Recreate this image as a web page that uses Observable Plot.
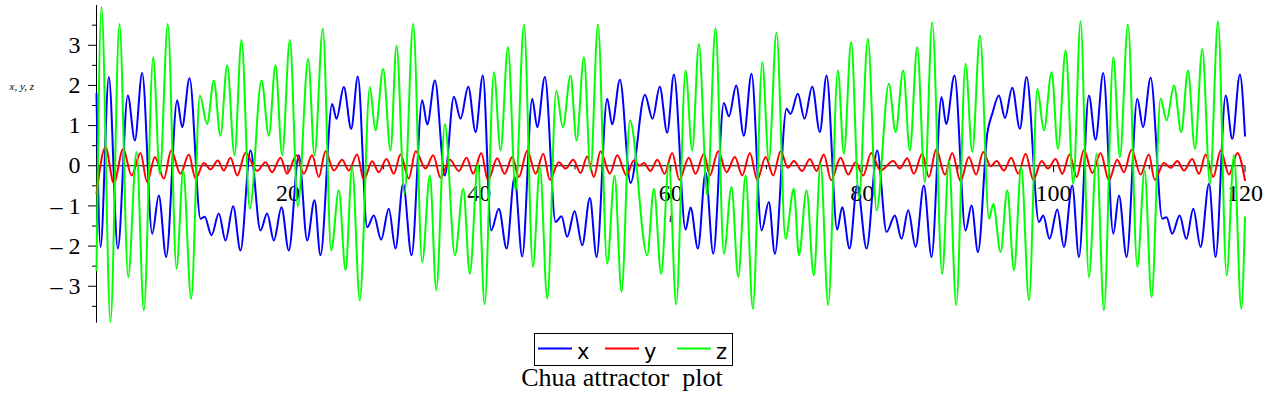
<!DOCTYPE html>
<html>
<head>
<meta charset="utf-8">
<script src="https://cdn.jsdelivr.net/npm/d3@7"></script>
<script src="https://cdn.jsdelivr.net/npm/@observablehq/plot@0.6"></script>
<style>
  html, body { margin: 0; padding: 0; background: #fff; }
  body { width: 1270px; height: 400px; position: relative; overflow: hidden; }
  #chart { position: absolute; left: 0; top: 0; }
  #legend { position: absolute; left: 533px; top: 332px; }
  #caption { position: absolute; left: 422px; width: 400px; top: 363px; text-align: center;
    font-family: "Liberation Serif", "Times New Roman", serif; font-size: 26px; white-space: pre; color: #000; }
</style>
</head>
<body>
<div id="chart"></div>
<svg id="legend" width="202" height="36" xmlns="http://www.w3.org/2000/svg"></svg>
<div id="caption">Chua attractor  plot</div>
<script>
// ---- data (local extrema of each series) ----
const xT = [0,0.42,1.29,2.23,3.27,4.01,4.77,5.82,6.51,7.28,
  8.43,8.95,9.72,10.87,11.3,12.02,12.78,13.48,14.28,15.04,
  16.09,17.13,17.83,18.53,19.33,20.09,21.14,22.01,22.78,23.40,
  24.62,25.08,25.84,26.61,27.31,28.28,28.98,29.74,30.54,31.24,
  32.04,32.92,34.03,34.56,35.36,36.40,37.34,38.04,38.84,39.61,
  40.37,41.24,42.04,42.85,43.68,44.48,45.53,46.05,46.85,47.97,
  48.59,49.18,49.95,50.75,51.55,52.25,53.36,53.88,54.69,55.80,
  57.30,58.10,58.85,59.63,60.33,61.55,62.07,62.84,63.64,64.44,
  65.55,66.08,66.84,67.64,68.44,69.49,70.25,70.88,72.10,72.51,
  73.28,73.98,74.78,75.58,76.28,77.39,77.91,78.68,79.48,80.46,
  81.57,82.55,83.42,84.11,84.81,85.58,86.45,87.25,88.29,88.78,
  89.65,90.80,91.43,92.10,93.07,93.60,94.29,94.92,95.68,96.48,
  97.18,98.47,98.92,99.58,100.39,101.08,101.95,102.65,103.69,104.39,
  105.19,106.24,106.83,107.63,108.75,109.34,110.14,111.36,111.8,112.40,
  113.17,113.87,114.60,115.36,116.24,116.93,117.98,118.67,119.47,120];
const xV = [1.8,-2.02,2.21,-2.06,1.75,0.63,2.31,-1.69,-0.74,-2.27,
  1.63,0.96,2.18,-1.32,-1.27,-1.73,-1.19,-1.86,-1.01,-2.11,
  0.38,-1.61,-1.19,-1.86,-1.03,-2.11,0.26,-1.86,-0.86,-2.23,
  1.54,1.17,1.96,0.92,2.22,-1.53,-1.24,-1.84,-1.07,-2.06,
  -0.45,-2.23,1.63,1.03,2.12,-0.24,1.72,1.17,1.97,0.84,
  2.25,-1.61,-1.07,-2.06,-0.28,-2.26,1.67,0.96,2.21,-1.40,
  -1.26,-1.77,-1.13,-1.98,-0.80,-2.27,1.67,1.03,2.14,-0.43,
  1.77,1.17,1.97,0.82,2.27,-1.59,-1.04,-2.06,-0.16,-2.19,
  1.56,1.23,2.00,0.75,2.29,-1.61,-0.90,-2.19,1.42,1.29,
  1.79,1.17,1.97,0.84,2.25,-1.59,-1.03,-2.06,-0.49,-2.06,
  0.38,-1.65,-1.24,-1.82,-1.11,-2.02,-0.49,-2.27,1.71,1.04,
  2.25,-1.61,-0.99,-2.15,0.80,1.30,1.75,1.19,1.94,0.92,
  2.21,-1.40,-1.24,-1.82,-1.09,-2.02,-0.49,-2.27,1.75,0.65,
  2.31,-1.69,-0.74,-2.27,1.67,0.96,2.19,-1.32,-1.28,-1.69,
  -1.24,-1.82,-1.07,-2.02,-0.45,-2.27,1.75,0.67,2.27,0.75];

const yT = [0,0.94,1.81,2.79,3.66,4.60,5.29,6.10,7.04,7.80,
  8.78,9.65,10.35,11.22,11.91,12.68,13.3,14.0,14.70,15.57,
  16.79,17.66,18.35,19.22,19.92,20.90,21.66,22.53,23.23,23.93,
  24.80,25.67,26.36,27.23,27.93,28.80,29.50,30.30,31.07,31.76,
  32.63,33.34,34.38,35.18,35.95,36.92,37.86,38.67,39.36,40.20,
  40.90,41.87,42.64,43.44,44.13,45.01,45.88,46.68,47.37,48.31,
  49.01,49.81,50.58,51.27,51.97,52.66,53.64,54.41,55.38,56.14,
  56.75,57.2,57.88,58.6,59.35,60.15,60.9,61.89,62.59,63.46,
  64.09,64.96,65.83,66.70,67.47,68.27,69.04,69.91,70.71,71.47,
  72.25,72.86,73.73,74.54,75.23,75.99,76.76,77.74,78.54,79.31,
  80.11,80.94,81.92,83.24,83.94,84.71,85.40,86.27,86.97,87.74,
  88.64,89.41,90.28,91.15,91.90,92.65,93.42,94.05,94.81,95.58,
  96.31,97.08,97.88,98.75,99.41,100.21,100.91,101.67,102.41,103.17,
  104.04,104.91,105.78,106.65,107.35,108.15,109.09,109.96,110.56,111.53,
  112.23,112.93,113.62,114.49,115.19,115.89,116.69,117.45,118.33,119.20,
  120];
const yV = [-0.70,0.46,-0.43,0.42,-0.24,0.32,-0.41,0.22,-0.32,0.38,
  -0.20,0.28,-0.32,0.07,-0.09,0.13,-0.12,0.20,-0.24,0.32,
  -0.13,0.09,-0.16,0.20,-0.20,0.26,-0.20,0.26,-0.28,0.36,
  -0.12,0.15,-0.12,0.28,-0.35,0.11,-0.16,0.17,-0.20,0.28,
  -0.32,0.36,-0.07,0.26,-0.30,0.15,-0.13,0.20,-0.20,0.32,
  -0.36,0.19,-0.20,0.22,-0.28,0.38,-0.20,0.30,-0.35,0.09,
  -0.07,0.15,-0.18,0.23,-0.28,0.36,-0.20,0.26,-0.24,0.13,
  0.0,0.07,-0.13,0.15,-0.20,0.32,-0.35,0.20,-0.20,0.30,
  -0.24,0.36,-0.16,0.22,-0.24,0.32,-0.35,0.22,-0.24,0.36,
  -0.05,0.12,-0.13,0.17,-0.13,0.28,-0.36,0.20,-0.22,0.09,
  -0.24,0.32,-0.12,0.12,-0.07,0.19,-0.20,0.30,-0.28,0.41,
  -0.22,0.32,-0.38,0.22,-0.22,0.34,-0.01,0.12,-0.12,0.20,
  -0.20,0.30,-0.35,0.12,-0.07,0.17,-0.20,0.28,-0.28,0.40,
  -0.18,0.32,-0.36,0.15,-0.16,0.40,-0.22,0.28,-0.35,0.07,
  -0.05,0.12,-0.12,0.17,-0.20,0.28,-0.28,0.38,-0.22,0.32,
  -0.36];

const zT = [0,0.52,1.46,2.40,3.31,4.18,4.95,5.92,6.62,7.45,
  8.36,9.06,9.89,10.80,11.56,12.26,12.95,13.65,14.42,15.15,
  16.02,17.24,18.01,18.70,19.40,20.20,21.04,22.12,22.78,23.65,
  24.52,25.32,26.02,26.71,27.51,28.56,29.15,29.95,30.72,31.35,
  32.18,33.09,34.03,34.83,35.50,36.40,37.45,38.32,39.01,39.85,
  40.55,41.52,42.22,42.99,43.79,44.66,45.60,46.33,47.10,48.04,
  48.73,49.53,50.16,50.93,51.62,52.39,53.36,54.13,54.86,55.73,
  57.54,58.24,59.00,59.80,60.57,61.55,62.24,62.94,63.81,64.68,
  65.55,66.35,67.05,67.82,68.58,69.56,70.25,71.05,71.99,72.86,
  73.39,74.19,74.95,75.65,76.45,77.46,78.09,78.85,79.66,80.60,
  81.50,82.79,83.49,84.29,84.98,85.75,86.55,87.32,88.36,89.06,
  89.83,90.80,91.50,92.31,93.25,93.70,94.46,95.16,95.86,96.62,
  97.43,98.30,98.99,99.79,100.46,101.26,102.06,102.82,103.69,104.50,
  105.26,106.24,106.93,107.77,108.75,109.51,110.24,111.18,111.81,112.58,
  113.34,114.04,114.77,115.54,116.34,117.18,118.08,118.85,119.61,120];
const zV = [-2.6,3.95,-3.89,3.53,-2.77,0.34,-3.60,2.70,-0.20,3.53,
  -2.56,-0.12,-3.31,1.75,1.04,2.12,0.75,2.50,0.26,3.13,
  -1.07,2.12,0.75,2.50,0.26,3.13,-1.01,2.66,0.26,3.41,
  -2.11,-0.61,-2.60,-0.03,-3.35,1.96,0.88,2.41,0.38,2.99,
  -0.70,3.53,-2.40,-0.24,-3.10,1.04,-2.23,-0.57,-2.69,0.05,
  -3.45,2.33,0.38,2.95,-0.61,3.52,-2.52,-0.03,-3.31,1.87,
  0.96,2.25,0.63,2.70,-0.12,3.52,-2.44,-0.24,-3.14,1.13,
  -2.23,-0.57,-2.69,0.05,-3.45,2.37,0.38,3.03,-0.74,3.43,
  -2.19,-0.53,-2.77,-0.24,-3.56,2.58,0.13,3.32,-1.82,-0.57,
  -2.23,-0.61,-2.73,0.05,-3.47,2.37,0.30,3.08,-0.82,3.16,
  -1.11,2.04,0.84,2.37,0.38,2.95,-0.41,3.57,-2.69,0.13,
  -3.47,2.54,0.34,3.24,-1.32,-0.95,-2.15,-0.61,-2.60,-0.03,
  -3.35,1.92,0.88,2.33,0.42,2.87,-0.45,3.60,-2.77,0.30,
  -3.60,2.70,0.22,3.52,-2.52,-0.12,-3.27,1.67,1.13,2.00,
  0.84,2.37,0.42,2.91,-0.45,3.60,-2.73,0.26,-3.56,-1.28];

const seriesNames = ["x", "y", "z"];
const seriesColors = ["#0000ff", "#ff0000", "#00ff00"];
const xMajorTicks = [20, 40, 60, 80, 100, 120];
const xMinorTicks = [10, 30, 50, 70, 90, 110];
const yMajorTicks = [-3, -2, -1, 0, 1, 2, 3];
const yMinorTicks = [-3.5, -2.5, -1.5, -0.5, 0.5, 1.5, 2.5, 3.5];
const yLabelTicks = [-3, -2, -1, 0, 1, 2, 3];
const tDomain = [0, 120];
const vDomain = [-3.92, 3.99];

function build(name, T, V) {
  if (T.length !== V.length) console.error(name, T.length, V.length);
  const n = Math.min(T.length, V.length);
  return d3.range(n).map(i => ({t: T[i], v: V[i], s: name}));
}
const dataX = build("x", xT, xV);
const dataY = build("y", yT, yV);
const dataZ = build("z", zT, zV);

const serif = "'Liberation Serif', 'Times New Roman', serif";
const fmt = d => d < 0 ? "\u2013 " + Math.abs(d) : String(d);

const chart = Plot.plot({
  width: 1270,
  height: 330,
  marginLeft: 96,
  marginRight: 25.5,
  marginTop: 5,
  marginBottom: 7.3,
  style: {fontFamily: serif, background: "#fff", color: "#000", overflow: "visible"},
  x: {domain: tDomain, axis: null},
  y: {domain: vDomain, axis: null},
  marks: [
    // axes through the origin
    Plot.ruleY([0], {x1: tDomain[0], x2: tDomain[1], stroke: "#000", strokeWidth: 1}),
    Plot.ruleX([0], {y1: vDomain[0], y2: vDomain[1], stroke: "#000", strokeWidth: 1}),
    Plot.ruleX(xMajorTicks, {x: d => d, y1: 0, y2: 0, insetBottom: -7, stroke: "#000"}),
    Plot.ruleX(xMinorTicks, {x: d => d, y1: 0, y2: 0, insetBottom: -4, stroke: "#000"}),
    Plot.ruleY(yMajorTicks, {y: d => d, x1: 0, x2: 0, insetLeft: -8, stroke: "#000"}),
    Plot.ruleY(yMinorTicks, {y: d => d, x1: 0, x2: 0, insetLeft: -4, stroke: "#000"}),
    Plot.text(xMajorTicks, {x: d => d, y: 0, dy: 28, text: d => String(d), fontSize: 24, fill: "#000"}),
    Plot.text(yLabelTicks, {x: 0, y: d => d, dx: -16, textAnchor: "end", text: fmt, fontSize: 24, fill: "#000"}),
    Plot.text(["t"], {x: 60, y: 0, dy: 52, text: d => d, fontSize: 13, fontStyle: "italic", fill: "#000"}),
    Plot.text(["x, y, z"], {frameAnchor: "top-left", dx: -87, dy: 77, textAnchor: "start", text: d => d, fontSize: 11, fontStyle: "italic", fill: "#000"}),
    // series
    Plot.line(dataX, {x: "t", y: "v", stroke: seriesColors[0], strokeWidth: 2, curve: "monotone-x"}),
    Plot.line(dataY, {x: "t", y: "v", stroke: seriesColors[1], strokeWidth: 2, curve: "monotone-x"}),
    Plot.line(dataZ, {x: "t", y: "v", stroke: seriesColors[2], strokeWidth: 2, curve: "monotone-x"})
  ]
});
document.getElementById("chart").appendChild(chart);

// legend
const lg = d3.select("#legend");
lg.append("rect").attr("x", 1.5).attr("y", 1.5).attr("width", 198).attr("height", 32)
  .attr("fill", "#fff").attr("stroke", "#000").attr("stroke-width", 1);
const lineX = [5, 72, 144];
seriesNames.forEach((name, i) => {
  lg.append("line").attr("x1", lineX[i]).attr("x2", lineX[i] + 34).attr("y1", 16.5).attr("y2", 16.5)
    .attr("stroke", seriesColors[i]).attr("stroke-width", 2);
  lg.append("text").attr("x", lineX[i] + 39).attr("y", 27)
    .attr("font-family", "'DejaVu Sans', 'Liberation Sans', sans-serif").attr("font-size", 21)
    .attr("fill", "#000").text(name);
});
</script>
</body>
</html>
